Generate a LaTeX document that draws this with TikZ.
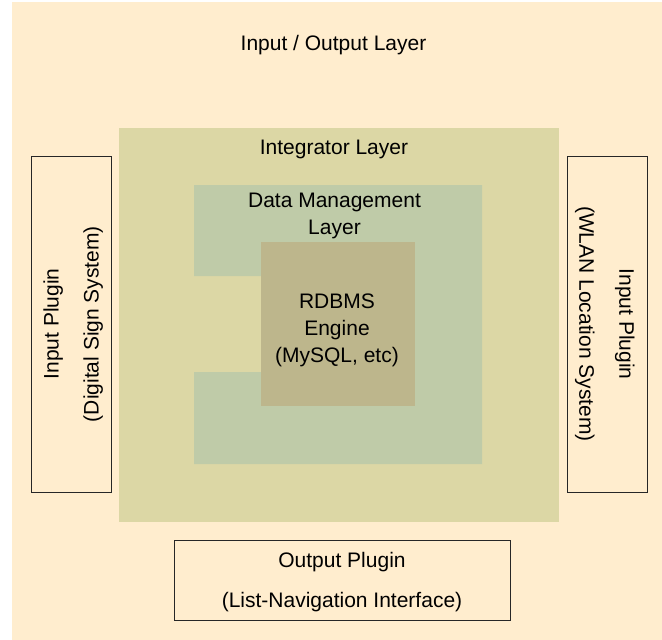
\documentclass[tikz,border=0pt]{standalone}
\usepackage{fontspec}
\setmainfont{Liberation Sans}
\usetikzlibrary{positioning}
\definecolor{iobg}{RGB}{255,237,206}
\definecolor{intgreen}{RGB}{220,215,165}
\definecolor{dmgreen}{RGB}{191,203,168}
\definecolor{dbtan}{RGB}{189,182,140}

\begin{document}
\begin{tikzpicture}[x=1pt, y=-1pt,
  every node/.style={font=\fontsize{21}{26.7}\selectfont, inner sep=0pt},
  lbl/.style={align=center, text depth=0pt, anchor=south},
  plugbox/.style={draw=black!85, line width=0.9pt, align=center, text depth=0pt,
                  minimum width=336pt, minimum height=80pt,
                  font=\fontsize{21}{40}\selectfont}]
  \useasboundingbox (0,0) rectangle (662,640);

  % OUTER: Input / Output layer
  \fill[iobg] (12,2) rectangle (662,640);
  \node[lbl] (iolbl) at (333.5,51) {Input / Output Layer};

  % Integrator layer
  \fill[intgreen] (119,128) rectangle (559,522);
  \node[lbl] (intlbl) at (334,155) {Integrator Layer};

  % Data management layer, notched on the left
  \fill[dmgreen] (194,185) -- (482,185) -- (482,464) -- (194,464) -- (194,372)
    -- (261,372) -- (261,276) -- (194,276) -- cycle;
  \node[lbl] (dmlbl) at (334.5,234.3) {Data Management\\Layer};

  % RDBMS core
  \fill[dbtan] (261,242) rectangle (415,406);
  \node[lbl] (dblbl) at (337,362.3) {RDBMS\\Engine\\(MySQL, etc)};

  % Plugins
  \node[plugbox, rotate=90]  (inds)   at (71,324)  {Input Plugin\\(Digital Sign System)};
  \node[plugbox, rotate=-90] (inwlan) at (607,324) {Input Plugin\\(WLAN Location System)};
  \node[plugbox]             (outnav) at (342,580) {Output Plugin\\(List-Navigation Interface)};
\end{tikzpicture}
\end{document}
